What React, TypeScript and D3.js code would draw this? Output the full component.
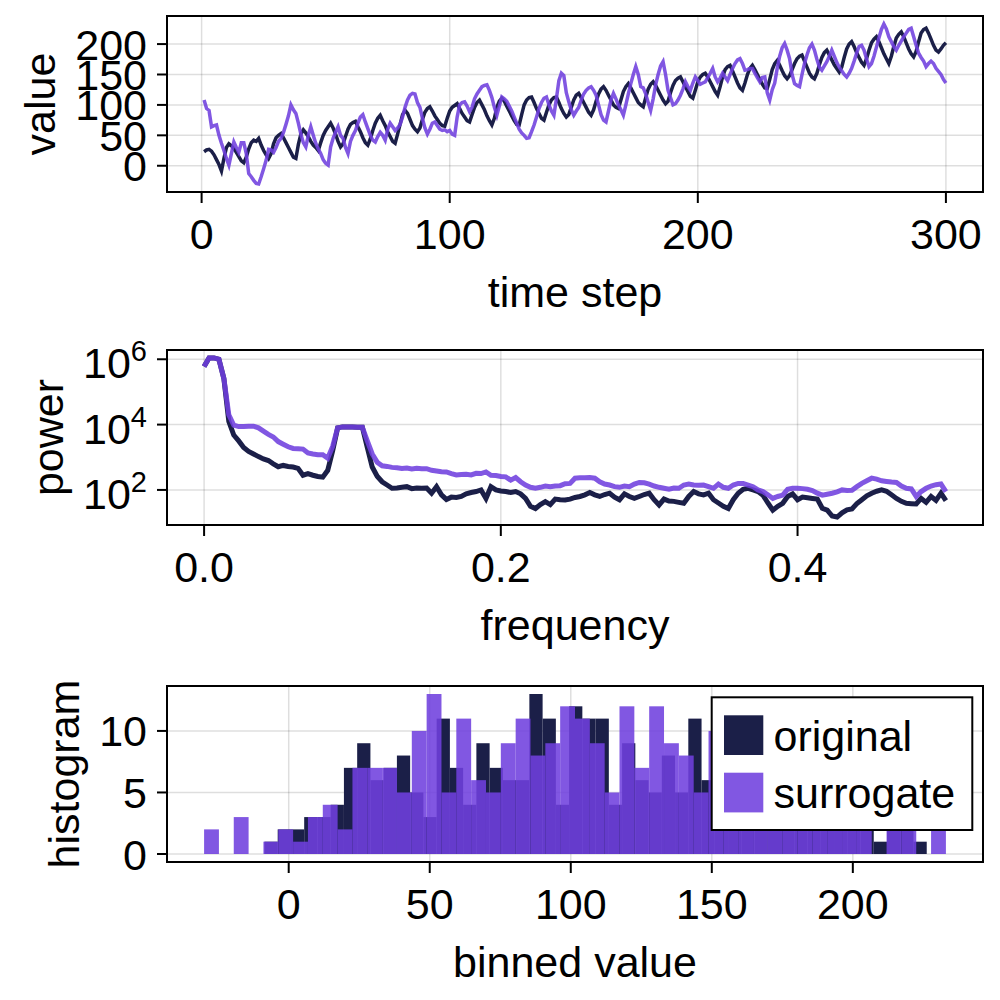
import React from "react";
import * as d3 from "d3";

// ---------- data ----------
const timeSteps: number[] = d3.range(1, 301);

const originalSeries: number[] = [
  23, 26, 27, 24, 18, 10, 2, -8.6, 12, 30,
  36, 33, 28, 22, 15, 8, 5, 14, 28, 38,
  42, 40, 45, 34, 25, 18, 12, 20, 36, 46,
  50, 53, 46, 38, 30, 22, 14, 12, 35, 52,
  59, 54, 48, 40, 34, 30, 25, 38, 50, 58,
  64, 70, 62, 52, 40, 31, 36, 48, 60, 68,
  71, 73, 64, 56, 46, 38, 34, 44, 58, 70,
  78, 83, 74, 66, 56, 48, 40, 37, 52, 68,
  84, 91, 86, 76, 66, 60, 56, 62, 76, 88,
  94, 97, 90, 82, 76, 70, 66, 65, 78, 90,
  96, 99, 102, 94, 86, 80, 74, 72, 84, 96,
  104, 108, 100, 92, 82, 74, 67, 78, 96, 106,
  111, 106, 98, 90, 82, 74, 68, 67, 84, 100,
  108, 112, 113, 104, 94, 86, 78, 75, 88, 100,
  108, 112, 113, 104, 94, 86, 80, 84, 96, 108,
  116, 119, 112, 104, 96, 88, 83, 92, 106, 118,
  126, 130, 124, 116, 108, 100, 96, 94, 108, 122,
  130, 135, 128, 120, 112, 104, 100, 97, 112, 126,
  134, 138, 132, 124, 116, 108, 102, 106, 120, 132,
  140, 144, 146, 138, 130, 122, 114, 111, 124, 138,
  146, 150, 152, 146, 138, 130, 122, 116, 130, 146,
  158, 163, 165, 156, 146, 136, 128, 124, 136, 150,
  160, 165, 158, 150, 142, 134, 128, 127, 142, 158,
  168, 173, 165, 156, 148, 143, 148, 158, 168, 176,
  180, 182, 172, 162, 152, 146, 143, 152, 166, 178,
  186, 190, 182, 174, 166, 160, 154, 162, 178, 192,
  200, 204, 196, 186, 178, 170, 165, 176, 190, 202,
  208, 212, 204, 194, 184, 176, 168, 180, 196, 210,
  216, 220, 212, 202, 192, 184, 179, 188, 204, 218,
  224, 226.2, 218, 208, 198, 190, 187, 192, 198, 202,
];

const surrogateSeries: number[] = [
  108, 94, 91, 64, 66, 67, 50, 37, 25, 12,
  1, 20, 39, 30, 22, 38, 38, 20, -13, -18,
  -24, -29, -30, -18, -5, 9, 27, 26, 22, 30,
  40, 45, 55, 68, 82, 100, 92, 86, 70, 52,
  38, 31, 50, 64, 50, 37, 28, 20, 10, 4,
  1, 31, 45, 55, 64, 50, 45, 30, 20, 40,
  50, 58, 70, 80, 84, 72, 61, 50, 42, 39,
  48, 55, 50, 42, 60, 70, 64, 58, 62, 68,
  80, 96, 108, 116, 119, 118, 104, 96, 78, 62,
  52, 60, 70, 72, 66, 60, 58, 59, 56, 58,
  52, 50, 80, 100, 104, 105, 98, 89, 96, 110,
  118, 124, 130, 132, 133, 124, 112, 96, 83, 98,
  113, 110, 106, 98, 90, 80, 70, 60, 54, 50,
  45, 46, 56, 67, 80, 94, 104, 111, 113, 100,
  90, 83, 110, 140, 152, 148, 120, 105, 92, 83,
  90, 96, 108, 118, 124, 128, 130, 124, 116, 100,
  84, 75, 72, 90, 108, 119, 110, 100, 92, 83,
  100, 118, 135, 150, 163, 150, 130, 128, 118, 104,
  91, 110, 133, 150, 164, 171, 150, 124, 112, 100,
  102, 108, 116, 126, 138, 130, 124, 136, 146, 140,
  134, 136, 138, 145, 152, 160, 146, 138, 144, 152,
  146, 140, 150, 160, 168, 174, 176, 168, 157, 158,
  160, 160, 152, 145, 138, 145, 146, 120, 108, 125,
  136, 160, 180, 194, 201, 190, 176, 150, 135, 132,
  130, 150, 168, 182, 194, 200, 190, 175, 162, 157,
  164, 171, 180, 190, 180, 170, 162, 156, 150, 146,
  152, 160, 172, 185, 196, 198, 190, 176, 163, 168,
  180, 195, 210, 224, 233, 225, 212, 204, 196, 190,
  198, 205, 212, 218, 224, 226, 212, 198, 185, 178,
  172, 163, 168, 172, 168, 160, 155, 150, 142, 136,
];

// frequency grid k/300, k = 0..150
const frequencies: number[] = d3.range(151).map((k) => k / 300);

// log10(power)
const originalPowerLog10: number[] = [
  5.78, 6.04, 6.04, 6.0, 5.41, 4.1, 3.68, 3.5, 3.3, 3.18,
  3.1, 3.02, 2.95, 2.9, 2.8, 2.71, 2.75, 2.72, 2.7, 2.66,
  2.45, 2.5, 2.45, 2.41, 2.39, 2.6, 3.2, 3.9, 3.93, 3.93,
  3.93, 3.92, 3.92, 3.3, 2.7, 2.42, 2.25, 2.15, 2.05, 2.06,
  2.08, 2.1, 2.04, 2.06, 2.05, 2.06, 1.9, 2.1, 1.85, 1.71,
  1.78, 1.77, 1.8, 1.88, 1.92, 1.95, 2.0, 1.74, 2.1, 2.0,
  1.97, 1.95, 1.92, 1.95, 1.88, 1.74, 1.5, 1.43, 1.55, 1.64,
  1.55, 1.72, 1.7, 1.69, 1.72, 1.77, 1.8, 1.85, 1.92, 1.85,
  1.8, 1.86, 1.9, 1.78, 1.7, 1.88, 1.8, 1.74, 1.8, 1.86,
  1.9, 1.7, 1.54, 1.72, 1.66, 1.65, 1.62, 1.59, 1.8, 1.95,
  1.88, 1.85, 1.9, 1.7, 1.6, 1.5, 1.43, 1.7, 1.9, 2.02,
  2.05, 2.0, 1.95, 1.84, 1.6, 1.38, 1.5, 1.59, 1.8, 1.88,
  1.7, 1.78, 1.76, 1.74, 1.72, 1.44, 1.38, 1.2, 1.17, 1.3,
  1.39, 1.42, 1.58, 1.7, 1.82, 1.9, 1.96, 2.0, 1.96, 1.85,
  1.74, 1.65, 1.59, 1.58, 1.57, 1.74, 1.62, 1.8, 1.68, 1.9,
  1.67,
];

const surrogatePowerLog10: number[] = [
  5.78, 6.04, 6.04, 6.0, 5.41, 4.3, 3.98, 3.94, 3.94, 3.95,
  3.95, 3.9, 3.8, 3.7, 3.62, 3.48, 3.4, 3.32, 3.27, 3.26,
  3.25, 3.13, 3.1, 3.08, 3.08, 2.97, 3.33, 3.9, 3.93, 3.93,
  3.93, 3.92, 3.92, 3.5, 3.1, 2.85, 2.74, 2.72, 2.69, 2.68,
  2.66, 2.67, 2.64, 2.66, 2.65, 2.65, 2.6, 2.58, 2.56, 2.55,
  2.5, 2.46, 2.47, 2.48, 2.46, 2.51, 2.5, 2.55, 2.45, 2.44,
  2.41, 2.4, 2.3, 2.38, 2.25, 2.15, 2.08, 2.05, 2.08, 2.12,
  2.1, 2.12, 2.13, 2.19, 2.2, 2.36, 2.37, 2.37, 2.38, 2.36,
  2.25, 2.18, 2.15, 2.1, 2.08, 2.12, 2.1, 2.18, 2.23, 2.22,
  2.18, 2.12, 2.08, 2.05, 2.02, 2.06, 2.05, 2.15, 2.18, 2.15,
  2.14, 2.15, 2.1, 2.05, 2.18, 2.08, 2.05, 2.15, 2.2, 2.2,
  2.15, 2.1, 2.0, 1.95, 1.85, 1.74, 1.8, 1.84, 2.02, 2.05,
  2.05, 2.04, 2.02, 1.98, 1.9, 1.84, 1.87, 1.9, 1.94, 2.0,
  1.98, 1.99, 2.1, 2.2, 2.28, 2.36, 2.33, 2.28, 2.26, 2.24,
  2.23, 2.12, 2.05, 2.03, 1.8, 1.95, 2.05, 2.12, 2.16, 2.18,
  1.95,
];

// histograms: 50 bins each over the series' own range
const originalBinRange: [number, number] = [-8.6, 226.2];
const originalCounts: number[] = [
  1, 2, 2, 3, 3, 4, 7, 9, 6, 7,
  8, 5, 3, 11, 7, 4, 9, 7, 6, 6,
  13, 11, 4, 12, 11, 11, 4, 9, 6, 5,
  8, 5, 11, 6, 8, 7, 6, 7, 5, 6,
  6, 5, 5, 5, 4, 4, 1, 2, 2, 1,
];
const surrogateBinRange: [number, number] = [-30, 233];
const surrogateCounts: number[] = [
  2, 0, 3, 0, 1, 2, 1, 3, 4, 2,
  7, 7, 7, 5, 10, 13, 5, 11, 6, 5,
  9, 11, 8, 9, 12, 11, 9, 5, 12, 7,
  12, 9, 8, 5, 10, 8, 7, 8, 6, 7,
  6, 6, 6, 5, 4, 0, 2, 2, 0, 2,
];

const seriesNames = ["original", "surrogate"];
const timeTicks = [0, 100, 200, 300];
const valueTicks = [0, 50, 100, 150, 200];
const freqTicks = [0, 0.2, 0.4];
const powerTickExponents = [2, 4, 6];
const binTicks = [0, 50, 100, 150, 200];
const countTicks = [0, 5, 10];

// ---------- styling ----------
const NAVY = "rgb(27,31,72)";
const PURPLE = "rgb(112,64,222)";
const PURPLE_ALPHA = 0.88;
const FONT = "'Liberation Sans', Arial, Helvetica, sans-serif";
const FS = 43;
const LEFT = 167;
const RIGHT = 983;
const GRID = "rgba(0,0,0,0.13)";

const pad = (a: number, b: number): [number, number] => {
  const r = b - a;
  return [a - 0.05 * r, b + 0.05 * r];
};

type FrameProps = {
  id: string;
  top: number;
  bottom: number;
  xs: (v: number) => number;
  ys: (v: number) => number;
  xTicks: number[];
  yTicks: number[];
  xTickText: (v: number) => string;
  yTickNode: (v: number, y: number) => React.ReactNode;
  xLabel: string;
  yLabel: string;
  yLabelX: number;
  children?: React.ReactNode;
};

function Frame(p: FrameProps) {
  const { id, top, bottom, xs, ys } = p;
  return (
    <g>
      <defs>
        <clipPath id={id}>
          <rect x={LEFT} y={top} width={RIGHT - LEFT} height={bottom - top} />
        </clipPath>
      </defs>
      {p.xTicks.map((t) => (
        <line key={"gx" + t} x1={xs(t)} x2={xs(t)} y1={top} y2={bottom} stroke={GRID} strokeWidth={1.5} />
      ))}
      {p.yTicks.map((t) => (
        <line key={"gy" + t} x1={LEFT} x2={RIGHT} y1={ys(t)} y2={ys(t)} stroke={GRID} strokeWidth={1.5} />
      ))}
      <g clipPath={`url(#${id})`}>{p.children}</g>
      <rect x={LEFT} y={top} width={RIGHT - LEFT} height={bottom - top} fill="none" stroke="#000" strokeWidth={2} />
      {p.xTicks.map((t) => (
        <line key={"tx" + t} x1={xs(t)} x2={xs(t)} y1={bottom} y2={bottom + 11} stroke="#000" strokeWidth={2} />
      ))}
      {p.yTicks.map((t) => (
        <line key={"ty" + t} x1={LEFT - 10} x2={LEFT} y1={ys(t)} y2={ys(t)} stroke="#000" strokeWidth={2} />
      ))}
      {p.xTicks.map((t) => (
        <text key={"lx" + t} x={xs(t)} y={bottom + 57} textAnchor="middle" fontSize={FS} fontFamily={FONT}>
          {p.xTickText(t)}
        </text>
      ))}
      {p.yTicks.map((t) => (
        <React.Fragment key={"ly" + t}>{p.yTickNode(t, ys(t))}</React.Fragment>
      ))}
      <text x={(LEFT + RIGHT) / 2} y={bottom + 115} textAnchor="middle" fontSize={FS} fontFamily={FONT}>
        {p.xLabel}
      </text>
      <text
        transform={`translate(${p.yLabelX},${(top + bottom) / 2}) rotate(-90)`}
        textAnchor="middle"
        fontSize={FS}
        fontFamily={FONT}
      >
        {p.yLabel}
      </text>
    </g>
  );
}

export default function App() {
  // ---- panel 1 ----
  const p1 = { top: 16, bottom: 192 };
  const x1 = d3.scaleLinear().domain(pad(d3.min(timeSteps)!, d3.max(timeSteps)!)).range([LEFT, RIGHT]);
  const allVals = originalSeries.concat(surrogateSeries);
  const y1 = d3.scaleLinear().domain(pad(d3.min(allVals)!, d3.max(allVals)!)).range([p1.bottom, p1.top]);
  const line1 = d3
    .line<number>()
    .x((_, i) => x1(timeSteps[i]))
    .y((d) => y1(d));

  // ---- panel 2 ----
  const p2 = { top: 350, bottom: 525 };
  const x2 = d3.scaleLinear().domain(pad(d3.min(frequencies)!, d3.max(frequencies)!)).range([LEFT, RIGHT]);
  const allLogs = originalPowerLog10.concat(surrogatePowerLog10);
  const [lLo, lHi] = pad(d3.min(allLogs)!, d3.max(allLogs)!);
  const y2 = d3.scaleLog().domain([Math.pow(10, lLo), Math.pow(10, lHi)]).range([p2.bottom, p2.top]);
  const originalPower = originalPowerLog10.map((l) => Math.pow(10, l));
  const surrogatePower = surrogatePowerLog10.map((l) => Math.pow(10, l));
  const line2 = d3
    .line<number>()
    .x((_, i) => x2(frequencies[i]))
    .y((d) => y2(d));

  // ---- panel 3 ----
  const p3 = { top: 686, bottom: 862 };
  const oW = (originalBinRange[1] - originalBinRange[0]) / originalCounts.length;
  const sW = (surrogateBinRange[1] - surrogateBinRange[0]) / surrogateCounts.length;
  const x3 = d3
    .scaleLinear()
    .domain(pad(Math.min(originalBinRange[0], surrogateBinRange[0]), Math.max(originalBinRange[1], surrogateBinRange[1])))
    .range([LEFT, RIGHT]);
  const maxCount = d3.max(originalCounts.concat(surrogateCounts))!;
  const y3 = d3.scaleLinear().domain(pad(0, maxCount)).range([p3.bottom, p3.top]);

  const plainY = (fmt: (v: number) => string) => (v: number, y: number) => (
    <text x={147} y={y + 15.5} textAnchor="end" fontSize={FS} fontFamily={FONT}>
      {fmt(v)}
    </text>
  );

  const legendX = 711.7;
  const legendY = 697.3;

  return (
    <svg
      width={1000}
      height={1000}
      viewBox="0 0 1000 1000"
      style={{ position: "absolute", left: 0, top: 0, background: "#fff" }}
    >
      <rect x={0} y={0} width={1000} height={1000} fill="#fff" />

      <Frame
        id="clip1"
        top={p1.top}
        bottom={p1.bottom}
        xs={x1}
        ys={y1}
        xTicks={timeTicks}
        yTicks={valueTicks}
        xTickText={(v) => String(v)}
        yTickNode={plainY((v) => String(v))}
        xLabel="time step"
        yLabel="value"
        yLabelX={55}
      >
        <path d={line1(originalSeries) || ""} fill="none" stroke={NAVY} strokeWidth={3.5} strokeLinejoin="miter" />
        <path
          d={line1(surrogateSeries) || ""}
          fill="none"
          stroke={PURPLE}
          strokeOpacity={PURPLE_ALPHA}
          strokeWidth={3.5}
          strokeLinejoin="miter"
        />
      </Frame>

      <Frame
        id="clip2"
        top={p2.top}
        bottom={p2.bottom}
        xs={x2}
        ys={(v) => y2(Math.pow(10, v))}
        xTicks={freqTicks}
        yTicks={powerTickExponents}
        xTickText={(v) => d3.format(".1f")(v)}
        yTickNode={(e, y) => (
          <text x={147} y={y + 19} textAnchor="end" fontSize={FS} fontFamily={FONT}>
            10
            <tspan dy={-17} fontSize={29}>
              {String(e)}
            </tspan>
          </text>
        )}
        xLabel="frequency"
        yLabel="power"
        yLabelX={63}
      >
        <path d={line2(originalPower) || ""} fill="none" stroke={NAVY} strokeWidth={5} strokeLinejoin="miter" />
        <path
          d={line2(surrogatePower) || ""}
          fill="none"
          stroke={PURPLE}
          strokeOpacity={PURPLE_ALPHA}
          strokeWidth={5}
          strokeLinejoin="miter"
        />
      </Frame>

      <Frame
        id="clip3"
        top={p3.top}
        bottom={p3.bottom}
        xs={x3}
        ys={y3}
        xTicks={binTicks}
        yTicks={countTicks}
        xTickText={(v) => String(v)}
        yTickNode={plainY((v) => String(v))}
        xLabel="binned value"
        yLabel="histogram"
        yLabelX={79}
      >
        {originalCounts.map((c, i) => {
          const a = originalBinRange[0] + i * oW;
          return c > 0 ? (
            <rect
              key={"o" + i}
              x={x3(a)}
              width={x3(a + oW) - x3(a)}
              y={y3(c)}
              height={y3(0) - y3(c)}
              fill={NAVY}
            />
          ) : null;
        })}
        {surrogateCounts.map((c, i) => {
          const a = surrogateBinRange[0] + i * sW;
          return c > 0 ? (
            <rect
              key={"s" + i}
              x={x3(a)}
              width={x3(a + sW) - x3(a)}
              y={y3(c)}
              height={y3(0) - y3(c)}
              fill={PURPLE}
              fillOpacity={PURPLE_ALPHA}
            />
          ) : null;
        })}
      </Frame>

      {/* legend */}
      <g>
        <rect x={legendX} y={legendY} width={260.6} height={132.7} fill="#fff" stroke="#000" strokeWidth={2} />
        <rect x={724} y={715.3} width={39.3} height={39.7} fill={NAVY} />
        <rect x={724} y={772.7} width={39.3} height={39.7} fill={PURPLE} fillOpacity={PURPLE_ALPHA} />
        <text x={773.5} y={751} fontSize={FS} fontFamily={FONT}>
          {seriesNames[0]}
        </text>
        <text x={773.5} y={808} fontSize={FS} fontFamily={FONT}>
          {seriesNames[1]}
        </text>
      </g>
    </svg>
  );
}
